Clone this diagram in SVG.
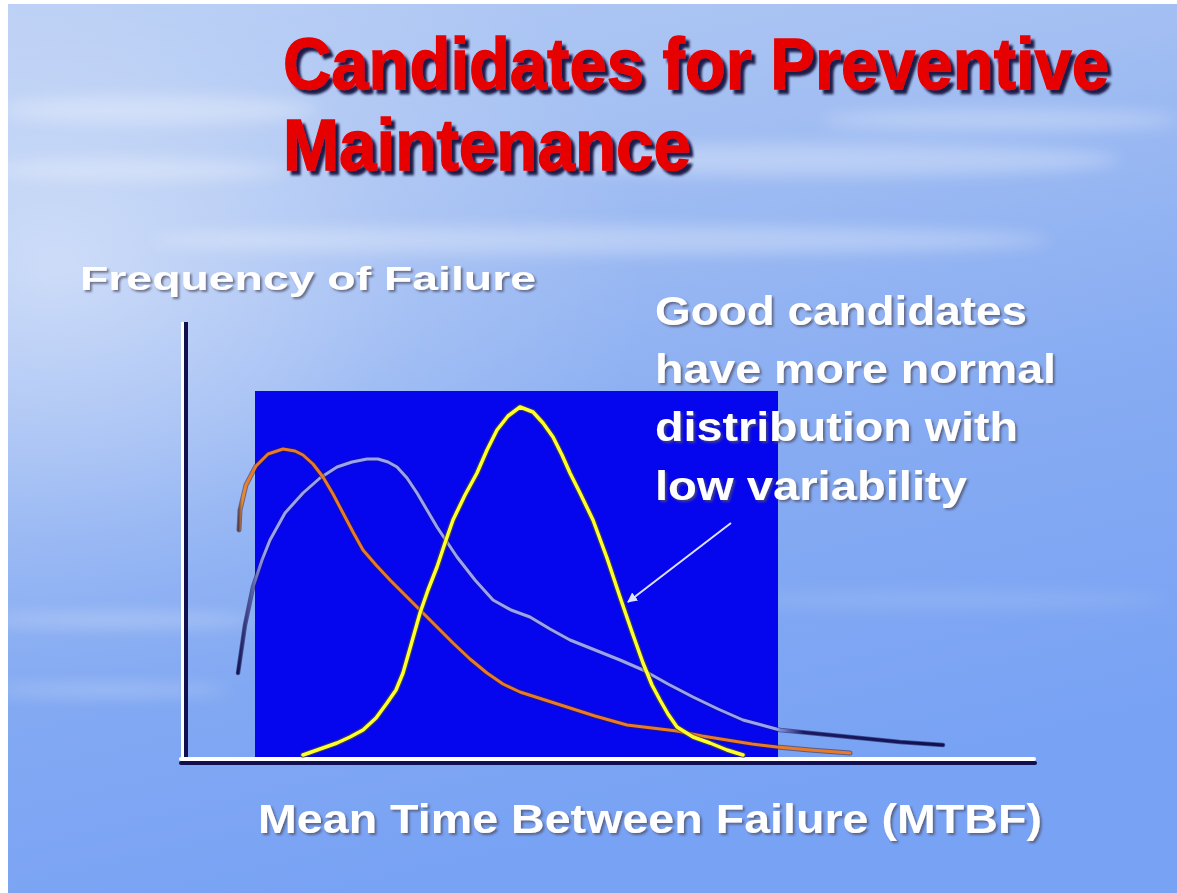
<svg xmlns="http://www.w3.org/2000/svg" width="1177" height="893" viewBox="0 0 1177 893">
<defs>
<linearGradient id="bg" x1="0" y1="0" x2="0.3" y2="1">
<stop offset="0" stop-color="#b4cbf4"/>
<stop offset="0.3" stop-color="#a2bef2"/>
<stop offset="0.65" stop-color="#86abf2"/>
<stop offset="1" stop-color="#78a2f4"/>
</linearGradient>
<radialGradient id="glow" cx="0.05" cy="0.3" r="0.5">
<stop offset="0" stop-color="#ffffff" stop-opacity="0.45"/>
<stop offset="0.6" stop-color="#ffffff" stop-opacity="0.12"/>
<stop offset="1" stop-color="#ffffff" stop-opacity="0"/>
</radialGradient>
<linearGradient id="lav" gradientUnits="userSpaceOnUse" x1="237" y1="0" x2="945" y2="0">
<stop offset="0" stop-color="#101050"/>
<stop offset="0.04" stop-color="#9aa2f2"/>
<stop offset="0.76" stop-color="#9aa2f2"/>
<stop offset="0.8" stop-color="#1a1a60"/>
<stop offset="1" stop-color="#101050"/>
</linearGradient>
<linearGradient id="org" gradientUnits="userSpaceOnUse" x1="237" y1="0" x2="250" y2="0">
<stop offset="0" stop-color="#202050"/>
<stop offset="0.4" stop-color="#e88a30"/>
<stop offset="1" stop-color="#e87a28"/>
</linearGradient>
<filter id="blur8" x="-20%" y="-50%" width="140%" height="200%"><feGaussianBlur stdDeviation="8"/></filter>
<filter id="tshadow" x="-5%" y="-20%" width="110%" height="140%">
<feDropShadow dx="4" dy="4" stdDeviation="1" flood-color="#1c1c48" flood-opacity="1"/>
</filter>
<filter id="wshadow" x="-5%" y="-20%" width="110%" height="140%">
<feDropShadow dx="2" dy="2" stdDeviation="1.2" flood-color="#505068" flood-opacity="0.75"/>
</filter>
<marker id="ah" viewBox="0 0 10 10" refX="9" refY="5" markerWidth="5" markerHeight="5" orient="auto">
<path d="M0,0 L10,5 L0,10 z" fill="#dde2ff"/>
</marker>
<style>
.title{font-family:"Liberation Sans",Arial,sans-serif;font-weight:bold;font-size:66px;fill:#e60000;stroke:#e60000;stroke-width:1.2;filter:url(#tshadow)}
.lbl{font-family:"Liberation Sans",Arial,sans-serif;font-weight:bold;fill:#ffffff;filter:url(#wshadow)}
.curve{fill:none;stroke-linejoin:round;stroke-linecap:round}
</style>
</defs>

<g id="background">
<rect x="0" y="0" width="1177" height="893" fill="url(#bg)"/>
<rect x="0" y="0" width="1177" height="893" fill="url(#glow)"/>
<g filter="url(#blur8)" fill="#ffffff" opacity="0.3">
<ellipse cx="820" cy="160" rx="300" ry="16"/>
<ellipse cx="1000" cy="120" rx="180" ry="10"/>
<ellipse cx="600" cy="240" rx="450" ry="14"/>
<ellipse cx="160" cy="110" rx="160" ry="14"/>
<ellipse cx="140" cy="170" rx="150" ry="10"/>
<ellipse cx="950" cy="600" rx="220" ry="10" opacity="0.4"/>
<ellipse cx="120" cy="620" rx="140" ry="6"/>
<ellipse cx="110" cy="690" rx="120" ry="5"/>
</g>
<rect x="0" y="0" width="8" height="893" fill="#ffffff"/>
<rect x="0" y="0" width="1177" height="4" fill="#ffffff"/>
</g>

<g id="title">
<text class="title" transform="translate(283,89) scale(1,1.1)" x="0" y="0" textLength="826" lengthAdjust="spacingAndGlyphs">Candidates for Preventive</text>
<text class="title" transform="translate(283,170) scale(1,1.1)" x="0" y="0" textLength="408" lengthAdjust="spacingAndGlyphs">Maintenance</text>
</g>

<g id="plot-area">
<rect x="255" y="391" width="523" height="367" fill="#0606ee"/>
</g>

<g id="axes">
<line x1="186" y1="322" x2="186" y2="762" stroke="#101050" stroke-width="4"/>
<line x1="182.5" y1="322" x2="182.5" y2="760" stroke="#ffffff" stroke-width="3"/>
<line x1="181" y1="763" x2="1035" y2="763" stroke="#101050" stroke-width="4" stroke-linecap="round"/>
<line x1="181" y1="759" x2="1034" y2="759" stroke="#ffffff" stroke-width="4" stroke-linecap="round"/>
</g>

<g id="curve-lavender">
<path class="curve" stroke="#1a1a5a" stroke-width="4.5" opacity="0.6" d="M238,673 L245,625 L253,587 L262,560 L270,540 L285,513 L303,493 L320,478 L337,467 L352,462 L367,459 L378,459 L388,462 L397,467 L407,478 L417,493 L427,510 L437,527 L447,542 L457,557 L475,580 L493,600 L511,610 L530,617 L550,629 L570,640 L595,650 L620,660 L643,670 L668,684 L693,697 L718,709 L743,720 L780,730 L820,734 L860,738 L900,742 L943,745"/>
<path class="curve" stroke="url(#lav)" stroke-width="3" d="M238,673 L245,625 L253,587 L262,560 L270,540 L285,513 L303,493 L320,478 L337,467 L352,462 L367,459 L378,459 L388,462 L397,467 L407,478 L417,493 L427,510 L437,527 L447,542 L457,557 L475,580 L493,600 L511,610 L530,617 L550,629 L570,640 L595,650 L620,660 L643,670 L668,684 L693,697 L718,709 L743,720 L780,730 L820,734 L860,738 L900,742 L943,745"/>
</g>

<g id="curve-orange">
<path class="curve" stroke="#402030" stroke-width="5" opacity="0.55" d="M239,530 L240,510 L246,485 L256,466 L268,454 L283,449 L295,451 L303,455 L313,464 L323,477 L333,494 L343,513 L353,532 L363,550 L376,565 L390,580 L405,595 L420,610 L437,627 L453,643 L470,659 L487,673 L503,684 L520,692 L545,700 L570,708 L595,716 L627,725 L652,728 L677,731 L702,736 L727,740 L752,744 L777,747 L810,750 L850,753"/>
<path class="curve" stroke="url(#org)" stroke-width="3" d="M239,530 L240,510 L246,485 L256,466 L268,454 L283,449 L295,451 L303,455 L313,464 L323,477 L333,494 L343,513 L353,532 L363,550 L376,565 L390,580 L405,595 L420,610 L437,627 L453,643 L470,659 L487,673 L503,684 L520,692 L545,700 L570,708 L595,716 L627,725 L652,728 L677,731 L702,736 L727,740 L752,744 L777,747 L810,750 L850,753"/>
</g>

<g id="curve-yellow">
<path class="curve" stroke="#50502a" stroke-width="6" opacity="0.6" d="M303,755 L320,749 L337,743 L350,737 L363,730 L376,718 L387,703 L396,690 L403,673 L411,645 L420,613 L428,590 L437,567 L445,543 L453,520 L465,495 L477,473 L487,450 L497,430 L508,416 L520,407 L533,412 L543,423 L553,437 L562,455 L570,473 L580,493 L593,520 L607,558 L620,597 L632,632 L643,663 L652,685 L660,700 L668,714 L677,727 L693,737 L710,743 L727,750 L743,755"/>
<path class="curve" stroke="#ffff2a" stroke-width="3.5" d="M303,755 L320,749 L337,743 L350,737 L363,730 L376,718 L387,703 L396,690 L403,673 L411,645 L420,613 L428,590 L437,567 L445,543 L453,520 L465,495 L477,473 L487,450 L497,430 L508,416 L520,407 L533,412 L543,423 L553,437 L562,455 L570,473 L580,493 L593,520 L607,558 L620,597 L632,632 L643,663 L652,685 L660,700 L668,714 L677,727 L693,737 L710,743 L727,750 L743,755"/>
</g>

<g id="axis-labels">
<text class="lbl" x="80" y="290" font-size="33" textLength="456" lengthAdjust="spacingAndGlyphs">Frequency of Failure</text>
<text class="lbl" x="258" y="833" font-size="40" textLength="784" lengthAdjust="spacingAndGlyphs">Mean Time Between Failure (MTBF)</text>
</g>

<g id="annotation">
<text class="lbl" font-size="40">
<tspan x="655" y="325" textLength="372" lengthAdjust="spacingAndGlyphs">Good candidates</tspan>
<tspan x="655" y="383" textLength="401" lengthAdjust="spacingAndGlyphs">have more normal</tspan>
<tspan x="655" y="441" textLength="363" lengthAdjust="spacingAndGlyphs">distribution with</tspan>
<tspan x="655" y="500" textLength="312" lengthAdjust="spacingAndGlyphs">low variability</tspan>
</text>
</g>

<g id="connectors">
<line x1="731" y1="523" x2="628" y2="602" stroke="#dde2ff" stroke-width="2" marker-end="url(#ah)"/>
</g>
</svg>
